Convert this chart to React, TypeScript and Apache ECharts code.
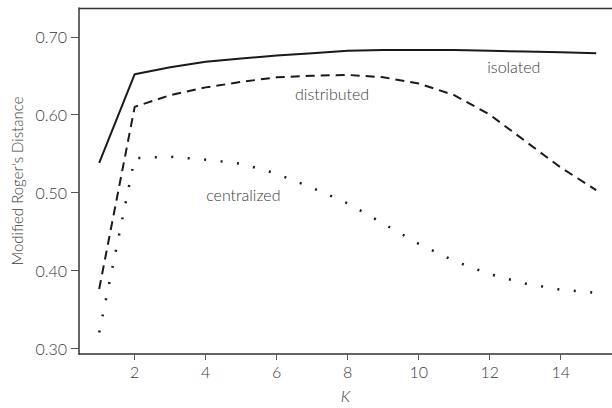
import React, { useEffect, useRef } from "react";
import * as echarts from "echarts";

const kValues = [1, 2, 3, 4, 5, 6, 7, 8, 9, 10, 11, 12, 13, 14, 15];
const isolated = [0.538, 0.652, 0.661, 0.668, 0.672, 0.676, 0.679, 0.682, 0.683, 0.683, 0.683, 0.682, 0.681, 0.680, 0.679];
const distributed = [0.376, 0.610, 0.625, 0.635, 0.642, 0.648, 0.650, 0.651, 0.648, 0.640, 0.625, 0.600, 0.566, 0.532, 0.503];
const centralized = [0.320, 0.544, 0.546, 0.542, 0.537, 0.524, 0.506, 0.486, 0.460, 0.434, 0.412, 0.395, 0.383, 0.375, 0.371];
const xTicks = [2, 4, 6, 8, 10, 12, 14];
const yTicks = [0.3, 0.4, 0.5, 0.6, 0.7];
const annotations = [
  { name: "isolated", k: 12.68, v: 0.662 },
  { name: "distributed", k: 7.56, v: 0.627 },
  { name: "centralized", k: 5.06, v: 0.497 },
];

const FONT = "Lato";
const TEXT = "#3a3a3a";
const LINE = "#1a1a1a";

export default function App() {
  const ref = useRef<HTMLDivElement>(null);
  useEffect(() => {
    document.body.style.margin = "0";
    const chart = echarts.init(ref.current!, null, { renderer: "svg" });
    const pairs = (arr: number[]) => kValues.map((k, i) => [k, arr[i]]);
    const mark = (name: string) => {
      const a = annotations.find((d) => d.name === name)!;
      return {
        silent: true,
        symbol: "circle",
        symbolSize: 0,
        data: [
          {
            coord: [a.k, a.v],
            label: {
              show: true,
              position: "inside",
              formatter: a.name,
              color: TEXT,
              fontFamily: FONT,
              fontSize: 16,
              fontWeight: 300,
            },
          },
        ],
      };
    };
    chart.setOption({
      animation: false,
      backgroundColor: "#ffffff",
      grid: { left: 79, right: -2, top: 8, bottom: 51, containLabel: false },
      graphic: [
        {
          type: "line",
          shape: { x1: 79, y1: 8.5, x2: 612, y2: 8.5 },
          style: { stroke: "#333", lineWidth: 1.5 },
          silent: true,
        },
      ],
      xAxis: {
        type: "value",
        min: 0.431,
        max: 15.445,
        name: "K",
        nameLocation: "middle",
        nameGap: 33,
        nameTextStyle: { fontFamily: FONT, fontSize: 16, fontStyle: "italic", color: TEXT, fontWeight: 300 },
        axisLine: { show: true, lineStyle: { color: "#333", width: 1.5 } },
        axisTick: { show: true, length: 6, lineStyle: { color: "#555", width: 1 }, customValues: xTicks },
        axisLabel: {
          customValues: xTicks,
          margin: 9,
          fontFamily: FONT,
          fontSize: 16,
          fontWeight: 300,
          color: TEXT,
        },
        splitLine: { show: false },
      },
      yAxis: {
        type: "value",
        min: 0.2924,
        max: 0.737,
        name: "Modified Roger's Distance",
        nameLocation: "middle",
        nameGap: 55,
        nameTextStyle: { fontFamily: FONT, fontSize: 15, color: TEXT, fontWeight: 300 },
        axisLine: { show: true, lineStyle: { color: "#333", width: 1.5 } },
        axisTick: { show: true, length: 8, lineStyle: { color: "#555", width: 1 }, customValues: yTicks },
        axisLabel: {
          customValues: yTicks,
          margin: 12,
          formatter: (v: number) => v.toFixed(2),
          fontFamily: FONT,
          fontSize: 16,
          fontWeight: 300,
          color: TEXT,
        },
        splitLine: { show: false },
      },
      series: [
        {
          name: "isolated",
          type: "line",
          data: pairs(isolated),
          showSymbol: false,
          smooth: false,
          lineStyle: { color: LINE, width: 2 },
          markPoint: mark("isolated"),
        },
        {
          name: "distributed",
          type: "line",
          data: pairs(distributed),
          showSymbol: false,
          smooth: false,
          lineStyle: { color: LINE, width: 2, type: [9, 6] },
          markPoint: mark("distributed"),
        },
        {
          name: "centralized",
          type: "line",
          data: pairs(centralized),
          showSymbol: false,
          smooth: false,
          lineStyle: { color: LINE, width: 2.5, type: [2, 14.5] },
          markPoint: mark("centralized"),
        },
      ],
    });
    return () => chart.dispose();
  }, []);
  return <div ref={ref} style={{ width: 612, height: 408 }} />;
}
